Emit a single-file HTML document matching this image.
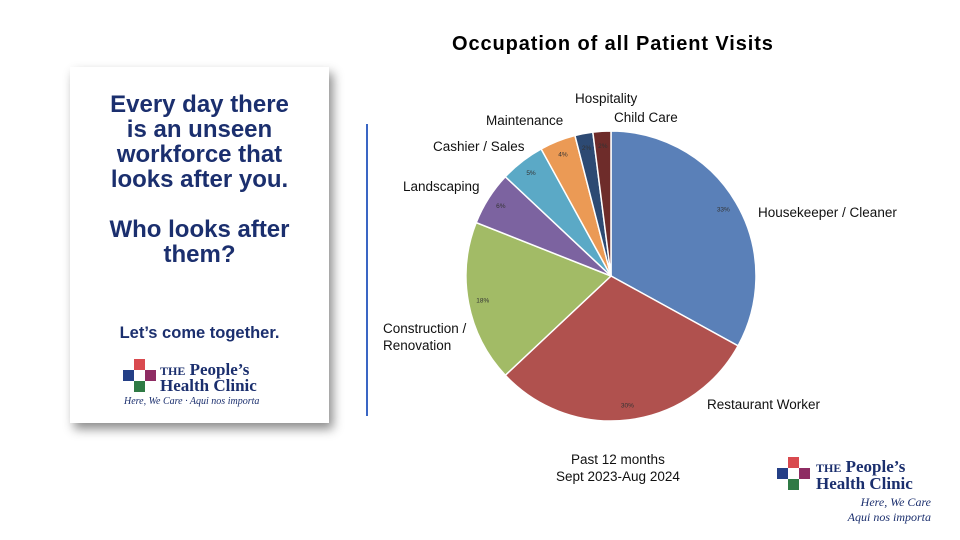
<!DOCTYPE html>
<html><head><meta charset="utf-8"><style>
body{margin:0;width:960px;height:540px;background:#fff;position:relative;overflow:hidden;font-family:"Liberation Sans",sans-serif}
.poster{position:absolute;left:70px;top:67px;width:259px;height:356px;background:#fff;box-shadow:4px 6px 10px rgba(0,0,0,.45)}
.hl{position:absolute;left:0;width:100%;text-align:center;color:#1b2f6e;font-weight:bold}
.lab{position:absolute;font-size:13.5px;color:#111;white-space:nowrap}
</style></head><body>
<div class="poster">
 <div class="hl" style="top:25px;font-size:24px;line-height:25px">Every day there<br>is an unseen<br>workforce that<br>looks after you.<br><br>Who looks after<br>them?</div>
 <div class="hl" style="top:257px;font-size:16.5px">Let’s come together.</div>
 <svg style="position:absolute;left:52px;top:290px" width="160" height="55">
  <rect x="12" y="2" width="11" height="11" fill="#d94a4f"/><rect x="1" y="13" width="11" height="11" fill="#243f86"/><rect x="23" y="13" width="11" height="11" fill="#8e2c63"/><rect x="12" y="24" width="11" height="11" fill="#2f7a45"/>
  <text x="38" y="18" font-family="Liberation Serif" font-size="17" fill="#1b2f6e" font-weight="bold"><tspan font-size="12">THE</tspan> People’s</text>
  <text x="38" y="34" font-family="Liberation Serif" font-size="17" fill="#1b2f6e" font-weight="bold">Health Clinic</text>
  <text x="2" y="47" font-family="Liberation Serif" font-size="10" font-style="italic" fill="#1b2f6e">Here, We Care · Aqui nos importa</text>
 </svg>
</div>
<div style="position:absolute;left:366px;top:124px;width:1.5px;height:292px;background:#3a66c4"></div>
<div style="position:absolute;left:452px;top:33px;font-size:20px;letter-spacing:0.9px;font-weight:bold;color:#000">Occupation of all Patient Visits</div>
<svg id="pie" style="position:absolute;left:0;top:0" width="960" height="540"></svg>
<div class="lab" style="left:556px;top:451px;text-align:center;line-height:17px">Past 12 months<br>Sept 2023-Aug 2024</div>
<svg style="position:absolute;left:776px;top:455px" width="180" height="75">
  <rect x="12" y="2" width="11" height="11" fill="#d94a4f"/><rect x="1" y="13" width="11" height="11" fill="#243f86"/><rect x="23" y="13" width="11" height="11" fill="#8e2c63"/><rect x="12" y="24" width="11" height="11" fill="#2f7a45"/>
  <text x="40" y="17" font-family="Liberation Serif" font-size="17" fill="#1b2f6e" font-weight="bold"><tspan font-size="12">THE</tspan> People’s</text>
  <text x="40" y="34" font-family="Liberation Serif" font-size="17" fill="#1b2f6e" font-weight="bold">Health Clinic</text>
  <text x="155" y="51" text-anchor="end" font-family="Liberation Serif" font-size="12" font-style="italic" fill="#1b2f6e">Here, We Care</text>
  <text x="155" y="66" text-anchor="end" font-family="Liberation Serif" font-size="12" font-style="italic" fill="#1b2f6e">Aqui nos importa</text>
</svg>
<script>
const categories=["Housekeeper / Cleaner","Restaurant Worker","Construction / Renovation","Landscaping","Cashier / Sales","Maintenance","Hospitality","Child Care"];
const values=[33,30,18,6,5,4,2,2];
const pctLabels=["33%","30%","18%","6%","5%","4%","2%","2%"];
const colors=["#5a80b8","#b0514e","#a2bb66","#7c63a0","#5ba9c6","#eb9a55","#2d4a73","#6e2c2a"];
const cx=611,cy=276,r=145;
const svg=document.getElementById('pie');
const NS="http://www.w3.org/2000/svg";
const total=values.reduce((a,b)=>a+b,0);
const labelPos=[[758,206,'start'],[707,398,'start'],[383,322,'start'],[403,180,'start'],[433,140,'start'],[486,114,'start'],[575,92,'start'],[614,111,'start']];
let a=0;
values.forEach((v,i)=>{
 const a0=a,a1=a+v/total*2*Math.PI;a=a1;
 const p=t=>[cx+r*Math.sin(t),cy-r*Math.cos(t)];
 const [x0,y0]=p(a0),[x1,y1]=p(a1);
 const path=document.createElementNS(NS,'path');
 path.setAttribute('d',`M${cx},${cy}L${x0},${y0}A${r},${r} 0 ${a1-a0>Math.PI?1:0} 1 ${x1},${y1}Z`);
 path.setAttribute('fill',colors[i]);path.setAttribute('stroke','#fff');path.setAttribute('stroke-width','1.5');
 
 
 svg.appendChild(path);
 const m=(a0+a1)/2,rr=r*0.9;
 const t=document.createElementNS(NS,'text');
 t.setAttribute('x',cx+rr*Math.sin(m));t.setAttribute('y',cy-rr*Math.cos(m)+2);
 t.setAttribute('text-anchor','middle');t.setAttribute('font-size','6.5');t.setAttribute('fill','#333');
 t.setAttribute('font-family','Liberation Sans');t.textContent=pctLabels[i];
 
 
 svg.appendChild(t);
 const lp=labelPos[i];
 const parts=categories[i]==="Construction / Renovation"?["Construction /","Renovation"]:[categories[i]];
 parts.forEach((s,k)=>{
  const l=document.createElementNS(NS,'text');
  l.setAttribute('x',lp[0]);l.setAttribute('y',lp[1]+11+k*17);l.setAttribute('font-size','13.5');
  l.setAttribute('font-family','Liberation Sans');l.setAttribute('fill','#111');l.textContent=s;
  
  
  svg.appendChild(l);
 });
});
</script>
</body></html>
